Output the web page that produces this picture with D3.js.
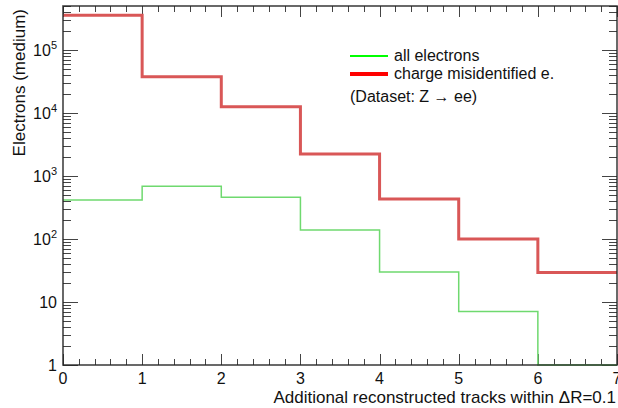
<!DOCTYPE html>
<html>
<head>
<meta charset="utf-8">
<script src="https://cdn.jsdelivr.net/npm/d3@7"></script>
<style>
	body { margin: 0; background: #fff; }
	text { font-family: "Liberation Sans", Arial, sans-serif; fill: #111; }
</style>
</head>
<body>
<div id="chart"></div>
<script>
// bin edges and contents
var binEdges = [0, 1, 2, 3, 4, 5, 6, 7];
var allElectrons = [416, 687, 459, 139, 30, 7.1, 0];
var chargeMisid = [355000, 37700, 12600, 2235, 431, 100, 29.5];
var xTicks = [0, 1, 2, 3, 4, 5, 6, 7];
var yTicks = [1, 10, 100, 1000, 10000, 100000];
var legendLabels = ['all electrons', 'charge misidentified e.', '(Dataset: Z \u2192 ee)'];

var chart_width = 618;
var chart_height = 408;
var plotLeft = 63, plotRight = 617, plotTop = 6, plotBottom = 365;

function drawChart() {
	var svg = d3.select('#chart')
				.append('svg')
				.attr('width', chart_width)
				.attr('height', chart_height);

	var x_scale = d3.scaleLinear()
					.domain([0, 7])
					.range([plotLeft, plotRight]);

	var y_scale = d3.scaleLog()
					.domain([1, 5e5])
					.range([plotBottom, plotTop])
					.clamp(true);

	//minor ticks
	var xMinor = d3.range(0, 7.001, 0.2).map(function(d){ return Math.round(d * 10) / 10; })
					.filter(function(d){ return xTicks.indexOf(d) < 0; });
	var yMinor = [];
	for (var p = 0; p < 6; p++) {
		for (var k = 2; k <= 9; k++) {
			var v = k * Math.pow(10, p);
			if (v <= 5e5) yMinor.push(v);
		}
	}

	var ticks = svg.append('g').attr('stroke', '#444').attr('stroke-width', 1);

	xTicks.forEach(function(d){
		var px = Math.round(x_scale(d)) + 0.5;
		ticks.append('line').attr('x1', px).attr('x2', px).attr('y1', plotBottom).attr('y2', plotBottom - 11);
		ticks.append('line').attr('x1', px).attr('x2', px).attr('y1', plotTop).attr('y2', plotTop + 11);
	});
	xMinor.forEach(function(d){
		var px = Math.round(x_scale(d)) + 0.5;
		ticks.append('line').attr('x1', px).attr('x2', px).attr('y1', plotBottom).attr('y2', plotBottom - 6);
		ticks.append('line').attr('x1', px).attr('x2', px).attr('y1', plotTop).attr('y2', plotTop + 6);
	});
	yTicks.forEach(function(d){
		var py = Math.round(y_scale(d)) + 0.5;
		ticks.append('line').attr('x1', plotLeft).attr('x2', plotLeft + 15).attr('y1', py).attr('y2', py);
		ticks.append('line').attr('x1', plotRight).attr('x2', plotRight - 15).attr('y1', py).attr('y2', py);
	});
	yMinor.forEach(function(d){
		var py = Math.round(y_scale(d)) + 0.5;
		ticks.append('line').attr('x1', plotLeft).attr('x2', plotLeft + 8).attr('y1', py).attr('y2', py);
		ticks.append('line').attr('x1', plotRight).attr('x2', plotRight - 8).attr('y1', py).attr('y2', py);
	});

	//histograms
	var line = d3.line()
				.x(function(d){ return x_scale(d[0]); })
				.y(function(d){ return y_scale(Math.max(d[1], 1)); });

	function steps(values) {
		var pts = [];
		values.forEach(function(v, i){
			pts.push([binEdges[i], v]);
			pts.push([binEdges[i + 1], v]);
		});
		return pts;
	}

	svg.append('path')
		.attr('d', line(steps(allElectrons)))
		.attr('fill', 'none')
		.attr('stroke', '#6fd96f')
		.attr('stroke-width', 1.5);

	svg.append('path')
		.attr('d', line(steps(chargeMisid)))
		.attr('fill', 'none')
		.attr('stroke', '#d95757')
		.attr('stroke-width', 3);

	//frame
	svg.append('rect')
		.attr('x', plotLeft)
		.attr('y', plotTop)
		.attr('width', plotRight - plotLeft)
		.attr('height', plotBottom - plotTop)
		.attr('fill', 'none')
		.attr('stroke', '#222')
		.attr('stroke-opacity', 0.85)
		.attr('stroke-width', 1.6);

	//tick labels
	svg.append('g')
		.selectAll('text')
		.data(xTicks)
		.enter()
		.append('text')
		.attr('x', function(d){ return x_scale(d); })
		.attr('y', 384)
		.attr('text-anchor', 'middle')
		.attr('font-size', 16)
		.text(function(d){ return d; });

	var ylab = svg.append('g')
		.selectAll('text')
		.data(yTicks)
		.enter()
		.append('text')
		.attr('x', 57)
		.attr('y', function(d){ return y_scale(d) + 6; })
		.attr('text-anchor', 'end')
		.attr('font-size', 16);
	ylab.each(function(d){
		var t = d3.select(this);
		var e = Math.round(Math.log10(d));
		if (e < 2) {
			t.text(d);
		} else {
			t.append('tspan').text('10');
			t.append('tspan').attr('font-size', 11).attr('dy', -7).text(e);
		}
	});

	//axis titles
	svg.append('text')
		.attr('x', 616)
		.attr('y', 403)
		.attr('text-anchor', 'end')
		.attr('font-size', 17)
		.text('Additional reconstructed tracks within \u0394R=0.1');

	svg.append('text')
		.attr('transform', 'translate(25,9) rotate(-90)')
		.attr('text-anchor', 'end')
		.attr('font-size', 17)
		.text('Electrons (medium)');

	//legend
	var legend = svg.append('g');
	legend.append('line').attr('x1', 350).attr('x2', 388).attr('y1', 56).attr('y2', 56)
		.attr('stroke', '#00ff00').attr('stroke-width', 2);
	legend.append('line').attr('x1', 350).attr('x2', 388).attr('y1', 74).attr('y2', 74)
		.attr('stroke', '#ff0000').attr('stroke-width', 4);
	legend.append('text').attr('x', 394).attr('y', 61).attr('font-size', 16).text(legendLabels[0]);
	legend.append('text').attr('x', 394).attr('y', 79).attr('font-size', 16).text(legendLabels[1]);
	legend.append('text').attr('x', 350).attr('y', 102).attr('font-size', 16).text(legendLabels[2]);
}

drawChart();
</script>
</body>
</html>
